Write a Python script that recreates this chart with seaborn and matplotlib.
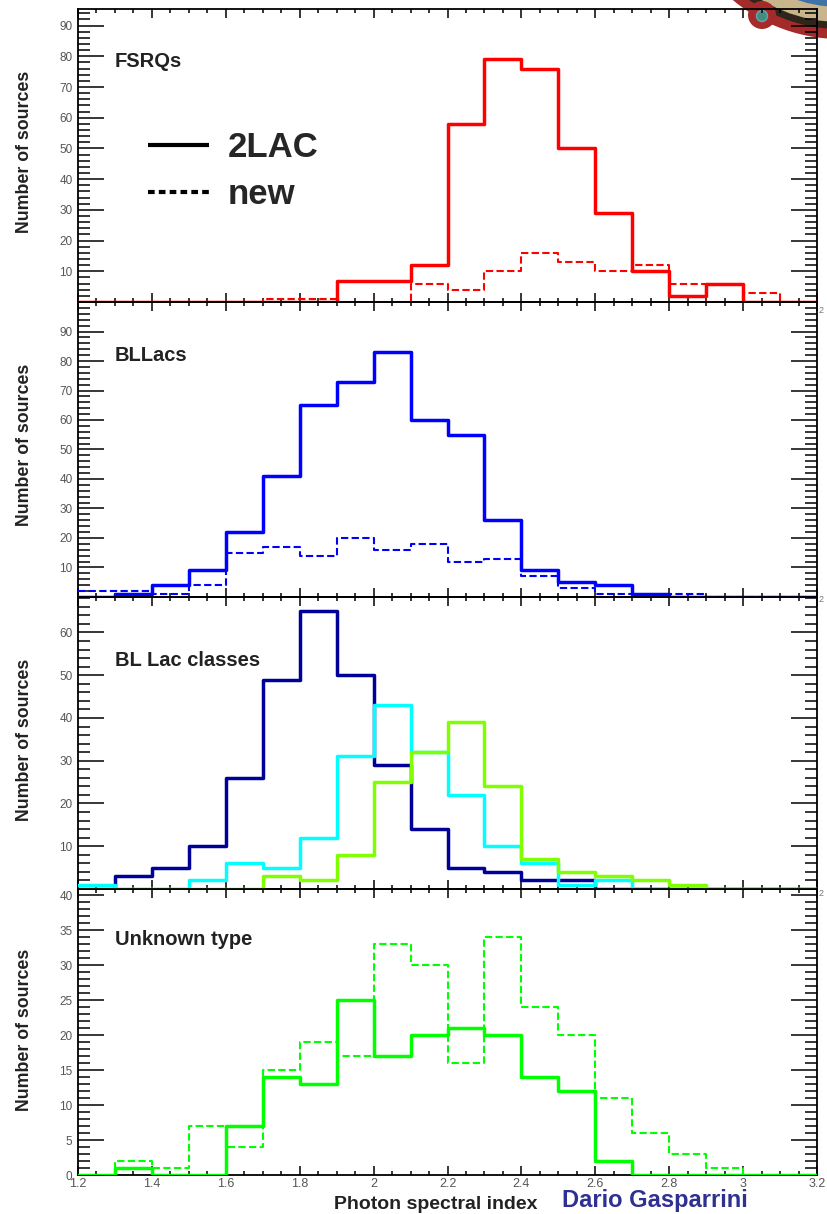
import numpy as np
import pandas as pd
import matplotlib
matplotlib.use("Agg")
import matplotlib.pyplot as plt
import matplotlib.patches as mpatches
from matplotlib.lines import Line2D
from matplotlib.ticker import MultipleLocator, FuncFormatter
import seaborn as sns

# photon index bins, 1.2 .. 3.2 in steps of 0.1
edges = np.round(np.arange(1.2, 3.25, 0.1), 2)
centers = edges[:-1] + 0.05

fsrq_2lac = [0, 0, 0, 0, 0, 0, 0, 7, 7, 12, 58, 79, 76, 50, 29, 10, 2, 6, 0, 0]
fsrq_new = [0, 0, 0, 0, 0, 1, 1, 0, 0, 6, 4, 10, 16, 13, 10, 12, 6, 0, 3, 0]

bllac_2lac = [0, 1, 4, 9, 22, 41, 65, 73, 83, 60, 55, 26, 9, 5, 4, 1, 0, 0, 0, 0]
bllac_new = [2, 2, 1, 4, 15, 17, 14, 20, 16, 18, 12, 13, 7, 3, 1, 0, 1, 0, 0, 0]

lsp = [0, 3, 5, 10, 26, 49, 65, 50, 29, 14, 5, 4, 2, 2, 0, 0, 0, 0, 0, 0]
isp = [1, 0, 0, 2, 6, 5, 12, 31, 43, 32, 22, 10, 6, 1, 2, 0, 0, 0, 0, 0]
hsp = [0, 0, 0, 0, 0, 3, 2, 8, 25, 32, 39, 24, 7, 4, 3, 2, 1, 0, 0, 0]

unk_2lac = [0, 1, 0, 0, 7, 14, 13, 25, 17, 20, 21, 20, 14, 12, 2, 0, 0, 0, 0, 0]
unk_new = [0, 2, 1, 7, 4, 15, 19, 17, 33, 30, 16, 34, 24, 20, 11, 6, 3, 1, 0, 0]

panel_titles = ["FSRQs", "BLLacs", "BL Lac classes", "Unknown type"]
title_y = [0.82, 0.82, 0.784, 0.825]
y_tops = [95.4, 100, 68.3, 40.9]
y_major = [10, 10, 10, 5]
y_minor = [2, 2, 2, 1]

sns.set_style("ticks")
plt.rcParams["font.family"] = ["Liberation Sans", "DejaVu Sans"]

W, H = 828, 1214
fig = plt.figure(figsize=(W / 100, H / 100), dpi=100)

left, right = 78, 817
bounds = [(9, 302), (302, 597), (597, 889), (889, 1175)]
axes = []
for top, bot in bounds:
    ax = fig.add_axes([left / W, 1 - bot / H, (right - left) / W, (bot - top) / H])
    ax.set_facecolor("none")
    axes.append(ax)

SOLID = 2.5
DASH = 1.5
dash_style = (0, (3.5, 1.6))


def step(ax, counts, color, lw, ls="-"):
    df = pd.DataFrame({"index": centers, "n": np.asarray(counts, dtype=float)})
    sns.histplot(data=df, x="index", weights="n", bins=edges.tolist(), element="step",
                 fill=False, color=color, linewidth=lw, linestyle=ls, ax=ax, zorder=3)


step(axes[0], fsrq_new, "#ff0000", DASH, dash_style)
step(axes[0], fsrq_2lac, "#ff0000", SOLID)

step(axes[1], bllac_new, "#0000ff", DASH, dash_style)
step(axes[1], bllac_2lac, "#0000ff", SOLID)

step(axes[2], lsp, "#000099", SOLID)
step(axes[2], isp, "#00ffff", SOLID)
step(axes[2], hsp, "#80ff00", SOLID)

step(axes[3], unk_new, "#00ff00", DASH, dash_style)
step(axes[3], unk_2lac, "#00ff00", SOLID)

fmt = FuncFormatter(lambda v, p: f"{v:g}")
for i, ax in enumerate(axes):
    ax.set_xlim(1.2, 3.2)
    ax.set_ylim(0, y_tops[i])
    ax.set_xlabel("")
    ax.set_ylabel("")
    for s in ax.spines.values():
        s.set_visible(True)
        s.set_linewidth(1.3)
        s.set_color("black")
    ax.xaxis.set_major_locator(MultipleLocator(0.2))
    ax.xaxis.set_minor_locator(MultipleLocator(0.05))
    ax.yaxis.set_major_locator(MultipleLocator(y_major[i]))
    ax.yaxis.set_minor_locator(MultipleLocator(y_minor[i]))
    ax.tick_params(axis="x", which="both", direction="in", top=True, bottom=True,
                   width=1.1, color="black")
    ax.tick_params(axis="x", which="major", length=6.5)
    ax.tick_params(axis="x", which="minor", length=3.2)
    ax.tick_params(axis="y", which="both", direction="in", left=True, right=True,
                   width=1.1, color="black")
    ax.tick_params(axis="y", which="major", length=18.5, pad=4)
    ax.tick_params(axis="y", which="minor", length=8.8)
    ax.tick_params(axis="y", labelsize=8.5, labelcolor="#555555")
    ax.tick_params(axis="x", labelsize=9, labelcolor="#555555", pad=2.5)
    ax.xaxis.set_major_formatter(fmt)
    if i < 3:
        top_v = y_tops[i]
        ax.yaxis.set_major_formatter(FuncFormatter(
            lambda v, p, t=top_v: "" if (v == 0 or v >= t - 0.5) else f"{v:g}"))
        ax.tick_params(axis="x", labelbottom=False)
    else:
        ax.yaxis.set_major_formatter(fmt)
    ax.text(0.05, title_y[i], panel_titles[i], transform=ax.transAxes,
            fontsize=14.5, fontweight="bold", color="#222222", ha="left", va="center")
    ax.text(-0.072, 0.79, "Number of sources", transform=ax.transAxes, rotation=90,
            fontsize=12.8, fontweight="bold", color="#222222", ha="center", va="top")

handles = [Line2D([], [], color="black", lw=3, solid_capstyle="butt"),
           Line2D([], [], color="black", lw=3, linestyle=(0, (1.6, 1.0)),
                  dash_capstyle="butt")]
axes[0].legend(handles, ["2LAC", "new"], loc="upper left", bbox_to_anchor=(0.095, 0.584),
               frameon=False, prop=dict(weight="bold", size=25), handlelength=1.75,
               handletextpad=0.55, labelspacing=0.4, borderpad=0, borderaxespad=0)

fig.text(436 / W, 1 - 1209 / H, "Photon spectral index", fontsize=14,
         fontweight="bold", color="#222222", ha="center", va="baseline")
fig.text(562 / W, 1 - 1207 / H, "Dario Gasparrini", fontsize=17, fontweight="bold",
         color="#2e3192", ha="left", va="baseline")
for yy in [310, 600, 893]:
    fig.text(819 / W, 1 - yy / H, "2", fontsize=6.5, color="#777777", ha="left",
             va="center")

# corner logo, drawn underneath the (transparent) axes
cx, cy = 840, H + 128
for r, c in [(167, "#a52a2a"), (157, "#2e261a"), (150, "#c9b58c"), (135, "#3f73a8")]:
    fig.add_artist(mpatches.Circle((cx, cy), r, transform=None,
                                   facecolor=c, edgecolor="none", zorder=-1))
fig.add_artist(mpatches.Circle((762, H - 15), 14, transform=None,
                               facecolor="#a52a2a", edgecolor="none", zorder=-1))
fig.add_artist(mpatches.Circle((762, H - 16), 5.5, transform=None,
                               facecolor="#3f8f7a", edgecolor="#6aa0c0", lw=1, zorder=-1))

fig.savefig("out.png", dpi=100)
